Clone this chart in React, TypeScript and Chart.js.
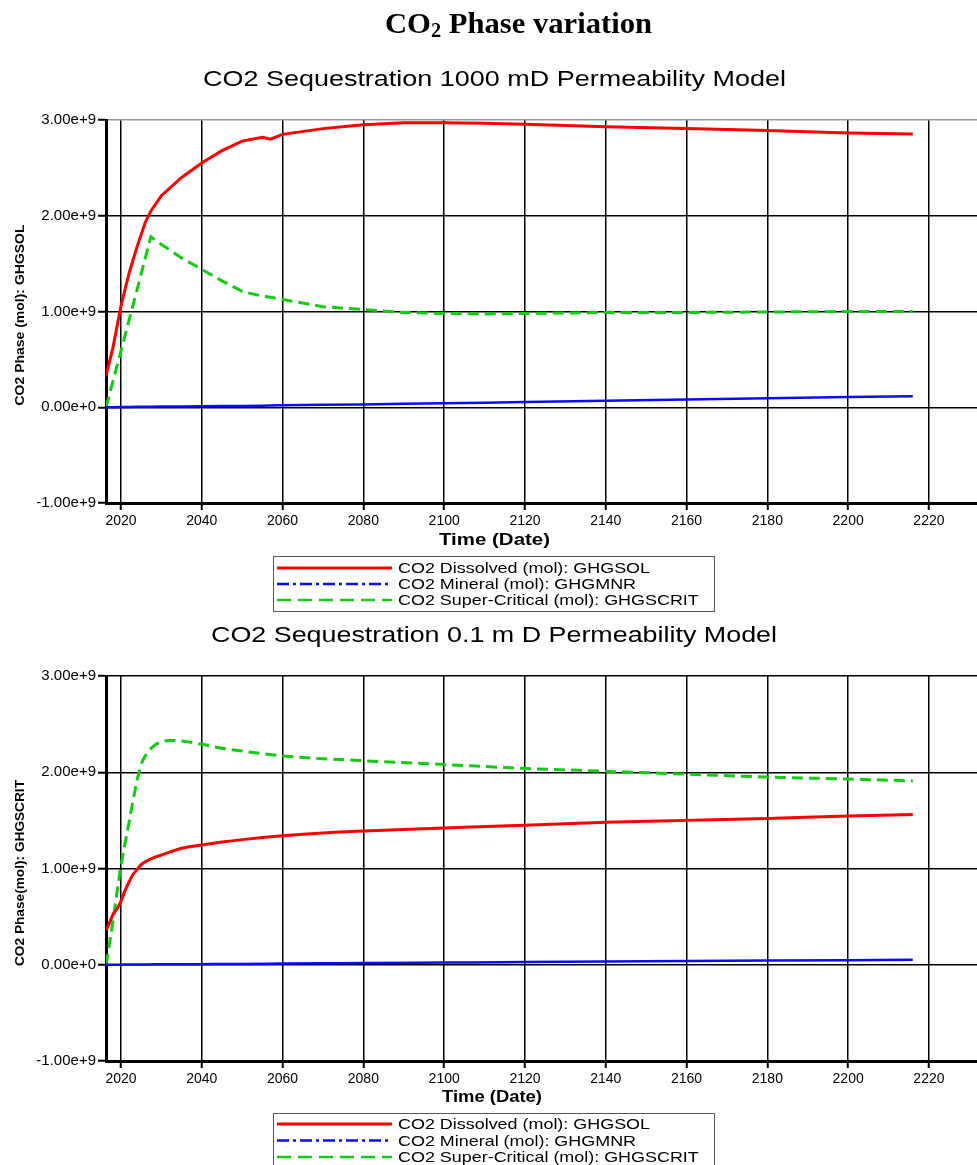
import React, { useEffect, useRef } from 'react';
import { Chart, registerables } from 'chart.js';

Chart.register(...registerables);

// ---------- text ----------
const MAIN_TITLE = ['CO', '2', ' Phase variation'];
const TITLE_1 = 'CO2 Sequestration 1000 mD Permeability Model';
const TITLE_2 = 'CO2 Sequestration 0.1 m D Permeability Model';
const Y_TITLE_1 = 'CO2 Phase (mol): GHGSOL';
const Y_TITLE_2 = 'CO2 Phase(mol): GHGSCRIT';
const X_TITLE = 'Time (Date)';
const LEGEND_LABELS = [
  'CO2 Dissolved (mol): GHGSOL',
  'CO2 Mineral (mol): GHGMNR',
  'CO2 Super-Critical (mol): GHGSCRIT',
];

// ---------- ticks ----------
const X_TICKS = [2020, 2040, 2060, 2080, 2100, 2120, 2140, 2160, 2180, 2200, 2220];
const Y_TICKS = [-1, 0, 1, 2, 3]; // in 1e9 mol

// ---------- data: 1000 mD model (values in 1e9 mol) ----------
const years1 = [2016.3, 2018, 2020, 2022, 2024, 2026, 2027.4, 2030, 2035, 2040, 2045, 2050, 2055, 2057, 2060, 2070, 2080, 2090, 2100, 2110, 2120, 2140, 2160, 2180, 2200, 2216];
const dissolved1 = [0.33, 0.62, 1.06, 1.4, 1.68, 1.93, 2.05, 2.21, 2.4, 2.55, 2.68, 2.78, 2.82, 2.8, 2.85, 2.91, 2.95, 2.97, 2.97, 2.965, 2.955, 2.93, 2.91, 2.89, 2.865, 2.855];
const mineral1 = [0, 0.001, 0.002, 0.003, 0.004, 0.005, 0.006, 0.007, 0.008, 0.01, 0.012, 0.014, 0.016, 0.017, 0.02, 0.025, 0.03, 0.036, 0.042, 0.048, 0.055, 0.068, 0.08, 0.093, 0.106, 0.116];
const supercritical1 = [0, 0.27, 0.59, 0.91, 1.23, 1.56, 1.78, 1.7, 1.56, 1.44, 1.32, 1.21, 1.16, 1.15, 1.125, 1.05, 1.02, 0.99, 0.98, 0.975, 0.98, 0.99, 0.99, 0.995, 1.0, 1.0];

// ---------- data: 0.1 mD model (values in 1e9 mol) ----------
const years2 = [2016.3, 2017, 2018, 2019, 2020, 2021, 2022, 2023, 2024, 2025, 2026, 2028, 2030, 2032, 2035, 2040, 2045, 2050, 2060, 2070, 2080, 2100, 2120, 2140, 2160, 2180, 2200, 2216];
const dissolved2 = [0.36, 0.42, 0.52, 0.58, 0.66, 0.77, 0.86, 0.94, 0.99, 1.04, 1.07, 1.11, 1.14, 1.17, 1.21, 1.245, 1.275, 1.3, 1.34, 1.37, 1.39, 1.42, 1.45, 1.48, 1.5, 1.52, 1.545, 1.56];
const mineral2 = [0, 0, 0.001, 0.001, 0.001, 0.002, 0.002, 0.002, 0.003, 0.003, 0.003, 0.004, 0.004, 0.005, 0.005, 0.006, 0.008, 0.009, 0.012, 0.015, 0.018, 0.023, 0.028, 0.033, 0.038, 0.043, 0.048, 0.052];
const supercritical2 = [0, 0.18, 0.45, 0.75, 1.03, 1.26, 1.48, 1.71, 1.92, 2.08, 2.17, 2.27, 2.315, 2.33, 2.325, 2.29, 2.25, 2.22, 2.17, 2.14, 2.12, 2.08, 2.04, 2.01, 1.98, 1.95, 1.93, 1.91];

// ---------- styles ----------
const RED = '#ff0000';
const BLUE = '#0a0aff';
const GREEN = '#11cc11';
const SANS = '"Liberation Sans", Arial, Helvetica, sans-serif';
const SERIF = '"Liberation Serif", "Times New Roman", serif';
const X_TICK_FONT = { family: SANS, size: 14 };
const Y_TICK_FONT = { family: SANS, size: 15 };

type Panel = {
  height: number;
  padTop: number;
  padBottom: number;
  mainTitle: boolean;
  title: string;
  titleLeft: number;
  titleWidth: number;
  titleBaseline: number;
  yTitle: string;
  yTitleCenter: number;
  yTitleLength: number;
  xTitleLeft: number;
  xTitleWidth: number;
  xTitleBaseline: number;
  xTitleSize: number;
  legendTop: number;
  legendBottom: number;
  legendRows: number[];
  topGrid: string;
  tension: boolean;
};

const PANEL_1: Panel = {
  height: 620,
  padTop: 120,
  padBottom: 87,
  mainTitle: true,
  title: TITLE_1,
  titleLeft: 203,
  titleWidth: 583,
  titleBaseline: 86,
  yTitle: Y_TITLE_1,
  yTitleCenter: 315,
  yTitleLength: 181,
  xTitleLeft: 439,
  xTitleWidth: 111,
  xTitleBaseline: 545,
  xTitleSize: 17,
  legendTop: 556,
  legendBottom: 611,
  legendRows: [568, 584, 600],
  topGrid: '#9a9a9a',
  tension: false,
};

const PANEL_2: Panel = {
  height: 545,
  padTop: 56,
  padBottom: 74,
  mainTitle: false,
  title: TITLE_2,
  titleLeft: 211,
  titleWidth: 566,
  titleBaseline: 22,
  yTitle: Y_TITLE_2,
  yTitleCenter: 253,
  yTitleLength: 186,
  xTitleLeft: 442,
  xTitleWidth: 100,
  xTitleBaseline: 481.5,
  xTitleSize: 16,
  legendTop: 493,
  legendBottom: 570,
  legendRows: [504, 520.5, 537],
  topGrid: '#000000',
  tension: true,
};

function fitText(ctx: CanvasRenderingContext2D, text: string, x: number, y: number, width: number, font: string) {
  ctx.save();
  ctx.font = font;
  const w = ctx.measureText(text).width;
  ctx.translate(x, y);
  ctx.scale(width / w, 1);
  ctx.textAlign = 'left';
  ctx.textBaseline = 'alphabetic';
  ctx.fillText(text, 0, 0);
  ctx.restore();
}

function decorPlugin(p: Panel) {
  return {
    id: 'decor',
    afterDraw(chart: any) {
      const ctx: CanvasRenderingContext2D = chart.ctx;
      ctx.save();
      ctx.fillStyle = '#000';

      // main title
      if (p.mainTitle) {
        const big = `bold 30px ${SERIF}`;
        const small = `bold 20px ${SERIF}`;
        ctx.font = big;
        const w0 = ctx.measureText(MAIN_TITLE[0]).width;
        const w2 = ctx.measureText(MAIN_TITLE[2]).width;
        ctx.font = small;
        const w1 = ctx.measureText(MAIN_TITLE[1]).width;
        const s = 267 / (w0 + w1 + w2);
        ctx.save();
        ctx.translate(385, 33);
        ctx.scale(s, 1);
        ctx.textBaseline = 'alphabetic';
        ctx.font = big;
        ctx.fillText(MAIN_TITLE[0], 0, 0);
        ctx.font = small;
        ctx.fillText(MAIN_TITLE[1], w0, 4);
        ctx.font = big;
        ctx.fillText(MAIN_TITLE[2], w0 + w1, 0);
        ctx.restore();
      }

      // chart title
      fitText(ctx, p.title, p.titleLeft, p.titleBaseline, p.titleWidth, `22px ${SANS}`);

      // y-axis title
      ctx.save();
      ctx.translate(19, p.yTitleCenter);
      ctx.rotate(-Math.PI / 2);
      fitText(ctx, p.yTitle, -p.yTitleLength / 2, 4.5, p.yTitleLength, `bold 12px ${SANS}`);
      ctx.restore();

      // x-axis title
      fitText(ctx, X_TITLE, p.xTitleLeft, p.xTitleBaseline, p.xTitleWidth, `bold ${p.xTitleSize}px ${SANS}`);

      // legend box
      ctx.strokeStyle = '#555';
      ctx.lineWidth = 1;
      ctx.setLineDash([]);
      ctx.strokeRect(273.5, p.legendTop + 0.5, 441, p.legendBottom - p.legendTop);
      const colors = [RED, BLUE, GREEN];
      const dashes = [[], [12, 4, 3, 4], [14, 7]];
      const widths = [3, 2.5, 2.5];
      const lf = `15px ${SANS}`;
      ctx.font = lf;
      const ls = 252 / ctx.measureText(LEGEND_LABELS[0]).width;
      p.legendRows.forEach((ry, i) => {
        ctx.save();
        ctx.strokeStyle = colors[i];
        ctx.lineWidth = widths[i];
        ctx.setLineDash(dashes[i]);
        ctx.beginPath();
        ctx.moveTo(277, ry);
        ctx.lineTo(392, ry);
        ctx.stroke();
        ctx.restore();
        ctx.save();
        ctx.font = lf;
        ctx.fillStyle = '#000';
        ctx.translate(398, ry + 5);
        ctx.scale(ls, 1);
        ctx.fillText(LEGEND_LABELS[i], 0, 0);
        ctx.restore();
      });
      ctx.restore();
    },
  };
}

function makeChart(canvas: HTMLCanvasElement, p: Panel, years: number[], dis: number[], min: number[], sc: number[]) {
  const pts = (arr: number[]) => years.map((x, i) => ({ x, y: arr[i] }));
  const interp = p.tension ? 'monotone' : 'default';
  return new Chart(canvas, {
    type: 'line',
    data: {
      datasets: [
        { label: LEGEND_LABELS[0], data: pts(dis), borderColor: RED, borderWidth: 3, cubicInterpolationMode: interp },
        { label: LEGEND_LABELS[1], data: pts(min), borderColor: BLUE, borderWidth: 2.5, cubicInterpolationMode: interp },
        { label: LEGEND_LABELS[2], data: pts(sc), borderColor: GREEN, borderWidth: 3, borderDash: [11, 6], cubicInterpolationMode: interp },
      ] as any,
    },
    options: {
      animation: false,
      responsive: false,
      maintainAspectRatio: false,
      layout: { padding: { top: p.padTop, bottom: p.padBottom, left: 0, right: 0 } },
      elements: { point: { radius: 0 }, line: { tension: 0, fill: false } },
      plugins: { legend: { display: false }, title: { display: false }, tooltip: { enabled: false } },
      scales: {
        x: {
          type: 'linear',
          min: 2016.29,
          max: 2231.9,
          afterBuildTicks: (s: any) => {
            s.ticks = X_TICKS.map((v) => ({ value: v }));
          },
          afterFit: (s: any) => {
            s.height = 30;
          },
          ticks: {
            font: X_TICK_FONT,
            color: '#000',
            padding: 3,
            maxRotation: 0,
            autoSkip: false,
            callback: (v: any) => String(v),
          },
          grid: { color: '#000', lineWidth: 1.5, tickLength: 7, tickWidth: 2, tickColor: '#000' },
          border: { display: true, color: '#000', width: 3 },
        },
        y: {
          type: 'linear',
          min: -1,
          max: 3,
          afterBuildTicks: (s: any) => {
            s.ticks = Y_TICKS.map((v) => ({ value: v }));
          },
          afterFit: (s: any) => {
            s.width = 106;
          },
          ticks: {
            font: Y_TICK_FONT,
            color: '#000',
            padding: 2,
            callback: (v: any) => (Number(v) * 1e9).toExponential(2),
          },
          grid: {
            color: (c: any) => (c.tick && c.tick.value === 3 ? p.topGrid : '#000'),
            lineWidth: 1.5,
            tickLength: 8,
            tickWidth: 2,
            tickColor: '#000',
          },
          border: { display: true, color: '#000', width: 3 },
        },
      },
    } as any,
    plugins: [decorPlugin(p)],
  });
}

export default function App() {
  const ref1 = useRef<HTMLCanvasElement>(null);
  const ref2 = useRef<HTMLCanvasElement>(null);

  useEffect(() => {
    const c1 = makeChart(ref1.current!, PANEL_1, years1, dissolved1, mineral1, supercritical1);
    const c2 = makeChart(ref2.current!, PANEL_2, years2, dissolved2, mineral2, supercritical2);
    return () => {
      c1.destroy();
      c2.destroy();
    };
  }, []);

  return (
    <div style={{ position: 'absolute', left: 0, top: 0, width: 977, height: 1165, background: '#fff', overflow: 'hidden' }}>
      <canvas ref={ref1} width={977} height={620} style={{ position: 'absolute', left: 0, top: 0 }} />
      <canvas ref={ref2} width={977} height={545} style={{ position: 'absolute', left: 0, top: 620 }} />
    </div>
  );
}
